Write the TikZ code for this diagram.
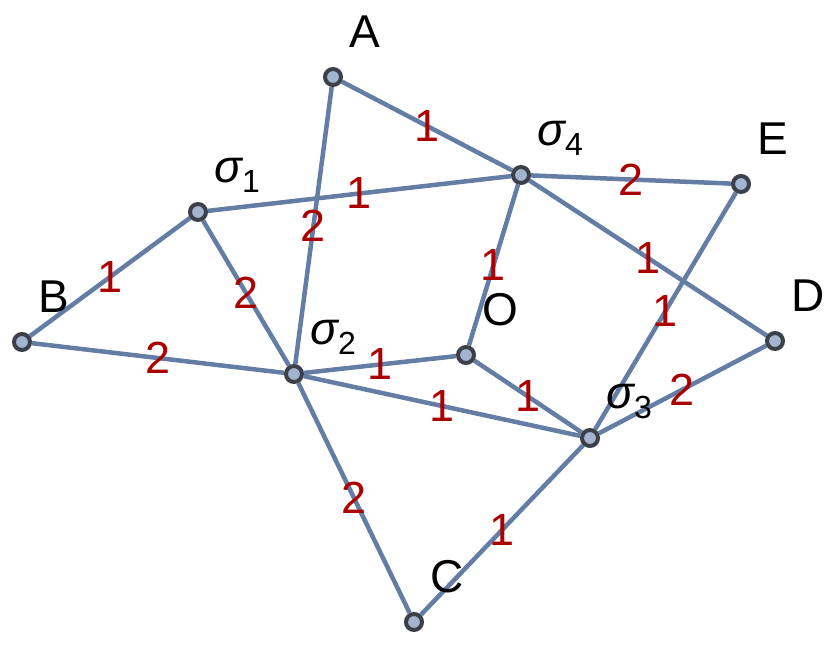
\documentclass[tikz,border=0pt]{standalone}
\usepackage{fontspec}
\setmainfont{Liberation Sans}
\usetikzlibrary{positioning,backgrounds}

\definecolor{edgeblue}{RGB}{100,125,165}
\definecolor{vfill}{RGB}{162,180,208}
\definecolor{vline}{RGB}{60,64,72}
\definecolor{wred}{RGB}{170,0,0}

\newcommand{\sig}[1]{{\itshape σ}\raisebox{-0.2em}{\fontsize{32}{34}\selectfont #1}}

\begin{document}
\begin{tikzpicture}[x=1pt,y=-1pt,
		vertex/.style={circle,draw=vline,fill=vfill,line width=4pt,minimum size=16pt,inner sep=0pt},
		vlab/.style={font=\fontsize{46}{50}\selectfont,inner sep=0pt},
		edge/.style={draw=edgeblue,line width=4.5pt},
		wlab/.style={text=wred,font=\fontsize{45}{50}\selectfont,inner sep=0pt}]
				\useasboundingbox (0,0) rectangle (830,651);

				% Vertices
				\node[vertex] (A) at (333,77) {};
				\node[vertex] (S4) at (521,175) {};
				\node[vertex] (E) at (741,184) {};
				\node[vertex] (S1) at (198,212) {};
				\node[vertex] (B) at (22,342) {};
				\node[vertex] (D) at (775,341) {};
				\node[vertex] (O) at (466,355) {};
				\node[vertex] (S2) at (294,374) {};
				\node[vertex] (S3) at (590,438) {};
				\node[vertex] (C) at (414,622) {};

				% Vertex labels
				\foreach \v/\t in {A/A, S4/\sig{4}, E/E, S1/\sig{1}, B/B, D/D, O/O, S2/\sig{2}, S3/\sig{3}, C/C}
					\node[vlab, above right=22pt and 9pt of \v, anchor=base west] (\v-lab) {\t};

				% Edges with weights
				\begin{pgfonlayer}{background}
				\foreach \a/\b/\w [count=\i] in {A/S4/1, A/S2/2, S1/S4/1, S4/E/2, S4/O/1, S4/D/1, E/S3/1, S1/B/1,
						S1/S2/2, B/S2/2, S2/O/1, S2/S3/1, O/S3/1, S3/D/2, S2/C/2, C/S3/1}
					\draw[edge] (\a) -- node[wlab] (w\i) {\w} (\b);
				\end{pgfonlayer}
			\end{tikzpicture}
\end{document}
